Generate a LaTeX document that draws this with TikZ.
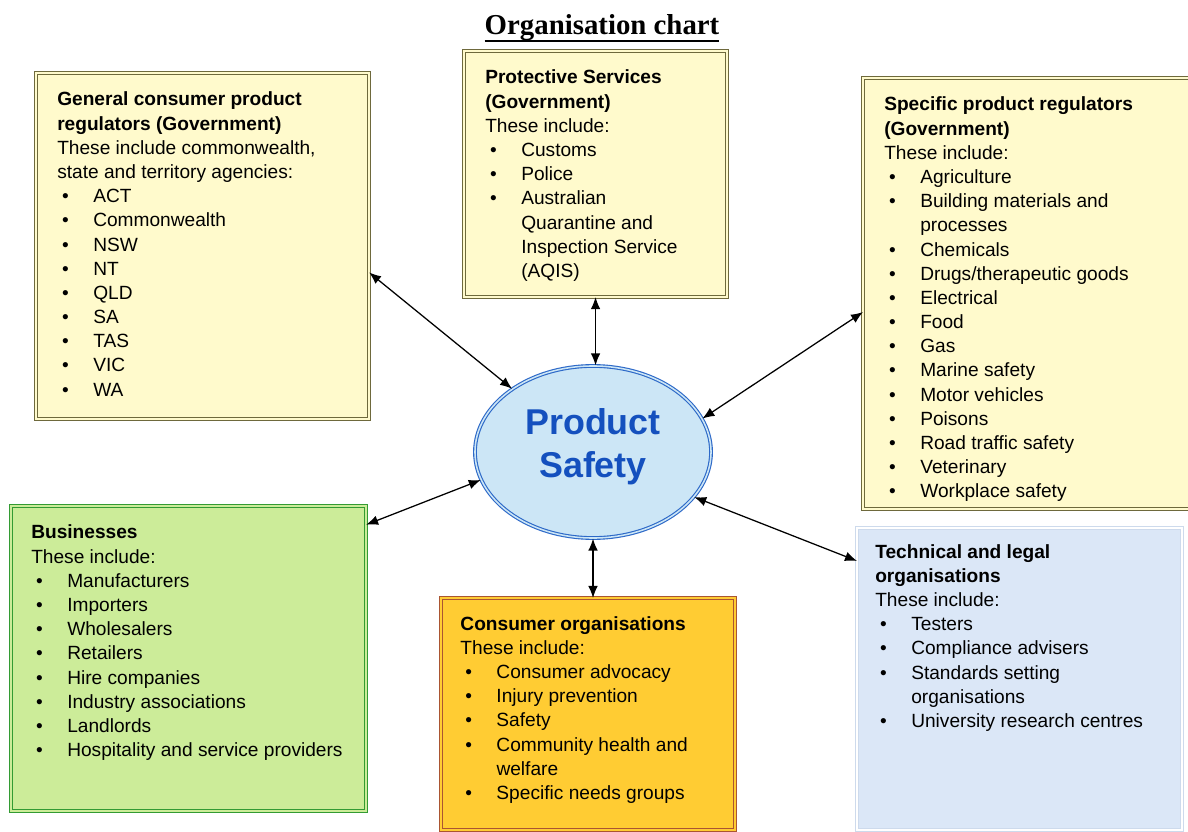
\documentclass[tikz,border=0pt]{standalone}
\usepackage{fontspec}
\setmainfont{Liberation Sans}
\newfontfamily\titlefont{Liberation Serif}
\usetikzlibrary{arrows.meta,shapes.geometric,positioning,calc}

\newcommand{\bul}{\makebox[0.9cm][l]{\hspace{0.12cm}\textbullet}}
\newcommand{\cont}{\hspace*{0.9cm}}

\begin{document}
\begin{tikzpicture}[
    x=0.025cm, y=-0.025cm,
    >={Latex[length=3mm,width=2.4mm]},
    font=\fontsize{13.6}{17.2}\selectfont,
    orgbox/.style={anchor=north west,inner sep=0pt,outer sep=0pt,line width=0.7pt,double distance=1.1pt},
    govbox/.style={orgbox,draw=govline,double=govfill,fill=govfill},
    busbox/.style={orgbox,draw=busline,double=busfill,fill=busfill},
    consbox/.style={orgbox,draw=consline,double=consfill,fill=consfill},
    techbox/.style={orgbox,draw=techline,fill=techfill},
    txt/.style={anchor=north west,inner sep=0pt,align=left},
    link/.style={<->,line width=0.9pt,black},
]
\definecolor{govline}{RGB}{110,105,60}   \definecolor{govfill}{RGB}{255,250,204}
\definecolor{busline}{RGB}{51,155,51}    \definecolor{busfill}{RGB}{204,236,153}
\definecolor{consline}{RGB}{170,85,50}   \definecolor{consfill}{RGB}{255,204,51}
\definecolor{techline}{RGB}{205,218,236} \definecolor{techfill}{RGB}{219,231,247}
\definecolor{psline}{RGB}{45,105,200}    \definecolor{psfill}{RGB}{204,230,246}
\definecolor{pstext}{RGB}{20,80,190}

\useasboundingbox (0,0) rectangle (1188,832);
\clip (0,0) rectangle (1188,832);

% title
\node[inner sep=0pt] (title) at (602,28) {\titlefont\bfseries\fontsize{20.5}{24}\selectfont
  \setbox0\hbox{Organisation chart}\rlap{\copy0}\raisebox{-5.5pt}{\rule{\wd0}{1.4pt}}};

% ---------- centre ----------
\node[ellipse,draw=psline,double=psfill,double distance=1.1pt,line width=0.8pt,fill=psfill,
      minimum width=5.9cm,minimum height=4.3cm,inner sep=0pt] (ps) at (593,452) {};
\node[align=center,text=pstext,font=\fontsize{25.5}{30.6}\selectfont\bfseries] (pstxt)
      at ($(ps.center)+(0,-5)$) {Product\\Safety};

% ---------- government boxes ----------
\node[govbox,minimum width=8.325cm,minimum height=8.65cm] (genbox) at (36,73) {};
\node[txt,below right=0.47cm and 0.525cm of genbox.north west] (gentxt) {%
\textbf{General consumer product}\\
\textbf{regulators (Government)}\\
These include commonwealth,\\
state and territory agencies:\\
\bul ACT\\ \bul Commonwealth\\ \bul NSW\\ \bul NT\\ \bul QLD\\ \bul SA\\ \bul TAS\\ \bul VIC\\ \bul WA};

\node[govbox,minimum width=6.575cm,minimum height=6.15cm] (protbox) at (464,51) {};
\node[txt,below right=0.47cm and 0.525cm of protbox.north west] (prottxt) {%
\textbf{Protective Services}\\
\textbf{(Government)}\\
These include:\\
\bul Customs\\ \bul Police\\ \bul Australian\\ \cont Quarantine and\\ \cont Inspection Service\\ \cont (AQIS)};

\node[govbox,minimum width=8.8cm,minimum height=10.775cm] (specbox) at (863,78) {};
\node[txt,below right=0.47cm and 0.525cm of specbox.north west] (spectxt) {%
\textbf{Specific product regulators}\\
\textbf{(Government)}\\
These include:\\
\bul Agriculture\\ \bul Building materials and\\ \cont processes\\ \bul Chemicals\\
\bul Drugs/therapeutic goods\\ \bul Electrical\\ \bul Food\\ \bul Gas\\ \bul Marine safety\\
\bul Motor vehicles\\ \bul Poisons\\ \bul Road traffic safety\\ \bul Veterinary\\ \bul Workplace safety};

% ---------- other boxes ----------
\node[busbox,minimum width=8.875cm,minimum height=7.625cm] (busbox) at (11,506) {};
\node[txt,below right=0.47cm and 0.5cm of busbox.north west] (bustxt) {%
\textbf{Businesses}\\
These include:\\
\bul Manufacturers\\ \bul Importers\\ \bul Wholesalers\\ \bul Retailers\\ \bul Hire companies\\
\bul Industry associations\\ \bul Landlords\\ \bul Hospitality and service providers};

\node[consbox,minimum width=7.35cm,minimum height=5.8cm] (consbox) at (441,598) {};
\node[txt,below right=0.45cm and 0.48cm of consbox.north west] (constxt) {%
\textbf{Consumer organisations}\\
These include:\\
\bul Consumer advocacy\\ \bul Injury prevention\\ \bul Safety\\ \bul Community health and\\ \cont welfare\\
\bul Specific needs groups};

\node[techbox,minimum width=8.125cm,minimum height=7.55cm] (techbox) at (857,528) {};
\node[txt,below right=0.4cm and 0.45cm of techbox.north west] (techtxt) {%
\textbf{Technical and legal}\\
\textbf{organisations}\\
These include:\\
\bul Testers\\ \bul Compliance advisers\\ \bul Standards setting\\ \cont organisations\\
\bul University research centres};

% ---------- links ----------
\draw[link] (genbox.-9) -- (ps.142);
\draw[link] (protbox.south) -- (protbox.south |- ps.north);
\draw[link] (specbox.186) -- (ps.17);
\draw[link] (busbox.37) -- (ps.194);
\draw[link] (ps.south) -- (ps.south |- consbox.north);
\draw[link] (techbox.144) -- (ps.-24);

\end{tikzpicture}
\end{document}
